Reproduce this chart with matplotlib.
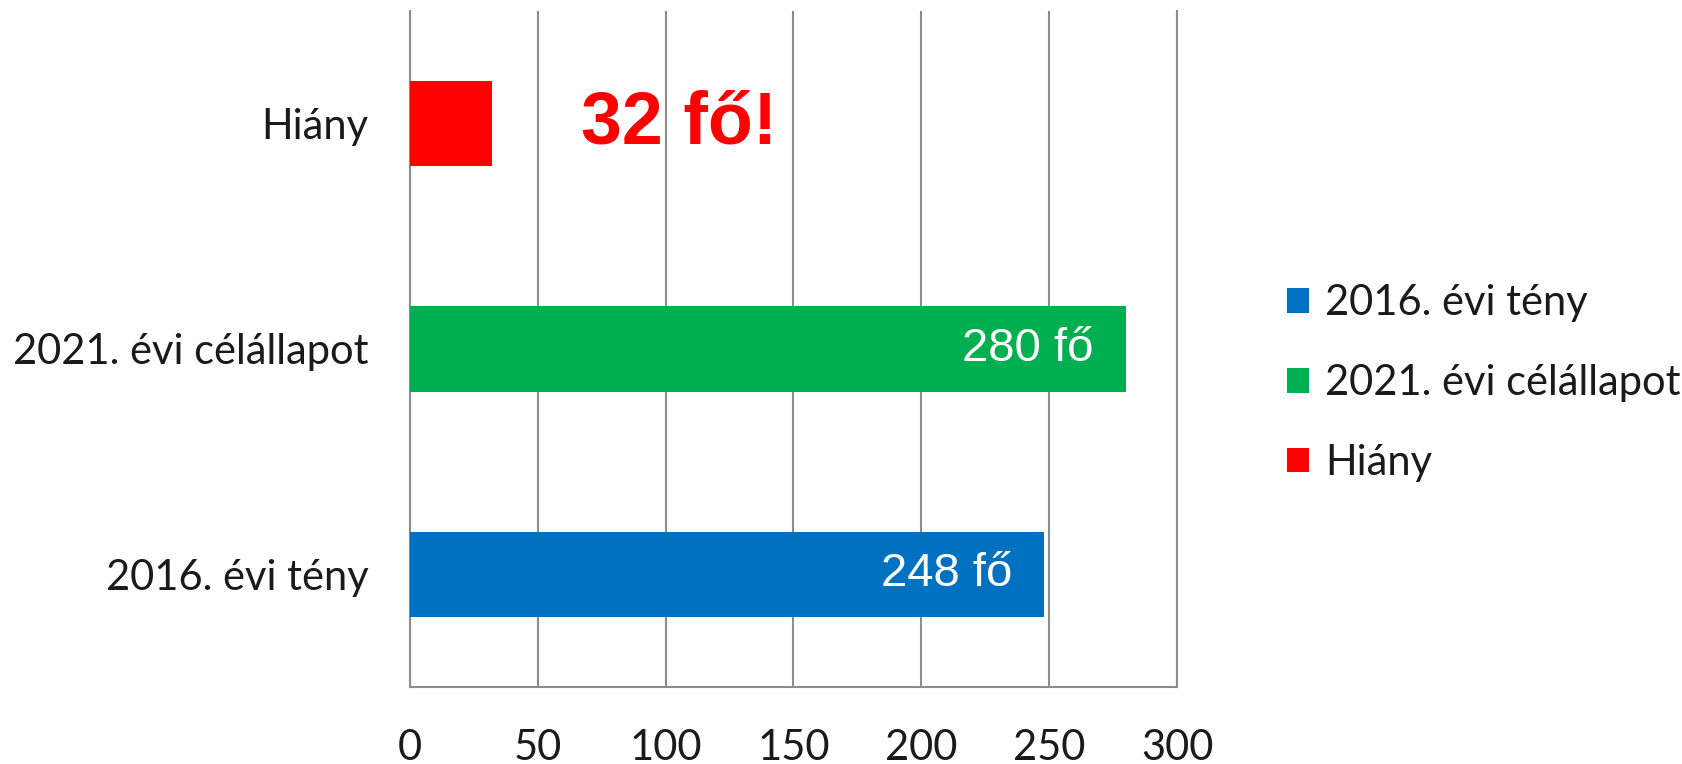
import matplotlib
matplotlib.use("Agg")
from matplotlib import pyplot as plt

# data
categories = ["2016. évi tény", "2021. évi célállapot", "Hiány"]
values = [248, 280, 32]
colors = ["#0070C0", "#00B050", "#FF0000"]
value_labels = ["248 fő", "280 fő", ""]
callout = "32 fő!"
x_ticks = [0, 50, 100, 150, 200, 250, 300]

grid_color = "#8C8C8C"

fig = plt.figure(figsize=(16.83, 7.64), dpi=100)
ax = fig.add_axes([0.2436, 0.1008, 0.4557, 0.8848])

for i, (cat, val, col) in enumerate(zip(categories, values, colors)):
    ax.barh(i, val, height=0.38, color=col, label=cat, zorder=3)

# labels inside the bars
for i, (val, txt) in enumerate(zip(values, value_labels)):
    if txt:
        ax.annotate(txt, xy=(val, i), xytext=(-23, 0), textcoords="offset points",
                    ha="right", va="center", color="white", fontsize=34,
                    family="Liberation Sans", zorder=4)

# big red callout next to the shortage bar
ax.text(67, 2, callout, ha="left", va="center", color="#FF0000", fontsize=53,
        fontweight="bold", family="Liberation Sans", zorder=4)

ax.set_xlim(0, 300)
ax.set_ylim(-0.5, 2.5)
ax.set_xticks(x_ticks)
ax.set_xticklabels([str(t) for t in x_ticks], family="Lato", fontsize=30, color="#1A1A1A")
ax.set_yticks(range(len(categories)))
ax.set_yticklabels(categories, family="Lato", fontsize=30, color="#1A1A1A")
ax.tick_params(axis="x", length=0, pad=30)
ax.tick_params(axis="y", length=0, pad=30)

ax.grid(axis="x", color=grid_color, linewidth=1.5, zorder=0)
ax.spines["top"].set_visible(False)
for side in ["left", "bottom", "right"]:
    ax.spines[side].set_color(grid_color)
    ax.spines[side].set_linewidth(1.5)

leg = fig.legend(loc="center left", bbox_to_anchor=(0.7647, 0.4987), frameon=False,
                 prop={"family": "Lato", "size": 30}, handlelength=0.53, handleheight=0.53,
                 handletextpad=0.38, labelspacing=1.0, borderpad=0, borderaxespad=0)
for t in leg.get_texts():
    t.set_color("#1A1A1A")

fig.savefig("out.png", dpi=100)
